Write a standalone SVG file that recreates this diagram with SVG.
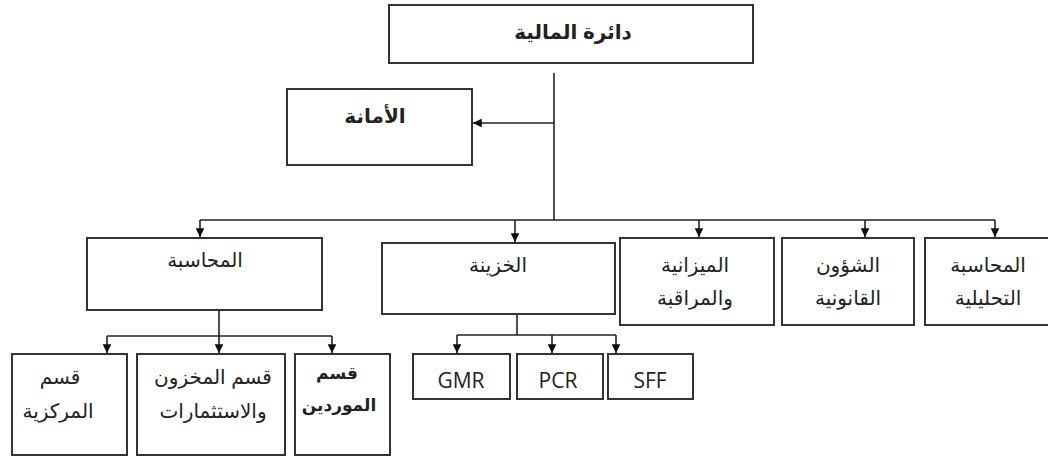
<svg xmlns="http://www.w3.org/2000/svg" width="1048" height="457" viewBox="0 0 1048 457">
<style>
.box{fill:#fff;stroke:#333;stroke-width:2}
.t{font-family:"Liberation Sans","DejaVu Sans",sans-serif;font-size:20px;fill:#222;text-anchor:middle;direction:rtl}
.b{font-weight:bold}
.s{font-size:17px}
.l{font-family:"Open Sans","Liberation Sans",sans-serif;font-size:21px;fill:#222;text-anchor:middle}
.c{fill:none;stroke:#222;stroke-width:1.6}
</style>
<defs>
<marker id="ah" viewBox="0 0 10 10" refX="10" refY="5" markerWidth="5.5" markerHeight="5.5" markerUnits="strokeWidth" orient="auto">
<path d="M0,0 L10,5 L0,10 z" fill="#111"/>
</marker>
</defs>
<rect width="1048" height="457" fill="#fff"/>
<g id="connectors">
<path class="c" d="M554,73 V220"/>
<path class="c" d="M554,123 H473" marker-end="url(#ah)"/>
<path class="c" d="M200,220 H995"/>
<path class="c" d="M200,220 V237" marker-end="url(#ah)"/>
<path class="c" d="M515,220 V242" marker-end="url(#ah)"/>
<path class="c" d="M699,220 V237" marker-end="url(#ah)"/>
<path class="c" d="M865,220 V237" marker-end="url(#ah)"/>
<path class="c" d="M995,220 V237" marker-end="url(#ah)"/>
<path class="c" d="M219,311 V336"/>
<path class="c" d="M107,336 H332"/>
<path class="c" d="M107,336 V353" marker-end="url(#ah)"/>
<path class="c" d="M219,336 V353" marker-end="url(#ah)"/>
<path class="c" d="M332,336 V353" marker-end="url(#ah)"/>
<path class="c" d="M517,315 V335"/>
<path class="c" d="M457,335 H616"/>
<path class="c" d="M457,335 V353" marker-end="url(#ah)"/>
<path class="c" d="M552,335 V353" marker-end="url(#ah)"/>
<path class="c" d="M616,335 V353" marker-end="url(#ah)"/>
</g>
<g id="n-finance"><rect class="box" x="389" y="5" width="364" height="58"/><text class="t b" x="573" y="39">دائرة المالية</text></g>
<g id="n-amana"><rect class="box" x="287" y="89" width="185" height="76"/><text class="t b" x="375" y="123">الأمانة</text></g>
<g id="n-accounting"><rect class="box" x="87" y="238" width="235" height="72"/><text class="t" x="205" y="267">المحاسبة</text></g>
<g id="n-treasury"><rect class="box" x="382" y="243" width="233" height="71"/><text class="t" x="498" y="272">الخزينة</text></g>
<g id="n-budget"><rect class="box" x="620" y="238" width="154" height="87"/><text class="t" x="695" y="272">الميزانية</text><text class="t" x="695" y="305">والمراقبة</text></g>
<g id="n-legal"><rect class="box" x="782" y="238" width="132" height="87"/><text class="t" x="848" y="272">الشؤون</text><text class="t" x="848" y="305">القانونية</text></g>
<g id="n-analytic"><rect class="box" x="925" y="238" width="126" height="87"/><text class="t" x="988" y="272">المحاسبة</text><text class="t" x="988" y="305">التحليلية</text></g>
<g id="n-central"><rect class="box" x="12" y="354" width="115" height="101"/><text class="t" x="60" y="384">قسم</text><text class="t" x="58" y="418">المركزية</text></g>
<g id="n-stock"><rect class="box" x="137" y="354" width="148" height="101"/><text class="t" x="213" y="384">قسم المخزون</text><text class="t" x="213" y="418">والاستثمارات</text></g>
<g id="n-suppliers"><rect class="box" x="295" y="354" width="95" height="101"/><text class="t b s" x="337" y="379">قسم</text><text class="t b s" x="339" y="411">الموردين</text></g>
<g id="n-gmr"><rect class="box" x="413" y="354" width="97" height="45"/><text class="l" x="461" y="388">GMR</text></g>
<g id="n-pcr"><rect class="box" x="517" y="354" width="86" height="45"/><text class="l" x="558" y="388">PCR</text></g>
<g id="n-sff"><rect class="box" x="608" y="354" width="85" height="45"/><text class="l" x="650" y="388">SFF</text></g>
</svg>
